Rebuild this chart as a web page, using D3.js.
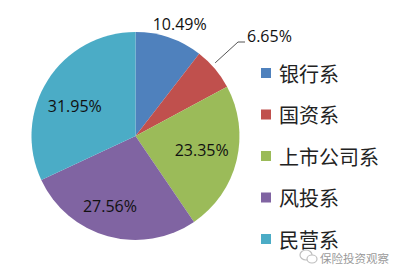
<!DOCTYPE html>
<html>
<head>
<meta charset="utf-8">
<script src="https://cdn.jsdelivr.net/npm/d3@7/dist/d3.min.js"></script>
<style>
  html, body { margin: 0; padding: 0; background: #fff; }
  svg { display: block; }
</style>
</head>
<body>
<svg id="chart" width="396" height="273"></svg>
<script>
// Share of each investor background
const categories = ["银行系", "国资系", "上市公司系", "风投系", "民营系"];
const shares = [10.49, 6.65, 23.35, 27.56, 31.95];
const colors = ["#4F81BD", "#C0504D", "#9BBB59", "#8064A2", "#4BACC6"];

const svg = d3.select("#chart");
const cx = 135.5, cy = 136, R = 104;

const pie = d3.pie().sort(null).value(d => d);
const arcs = pie(shares);
const arc = d3.arc().innerRadius(0).outerRadius(R);

const g = svg.append("g").attr("transform", `translate(${cx},${cy})`);

g.selectAll("path.slice")
  .data(arcs)
  .join("path")
  .attr("class", "slice")
  .attr("d", arc)
  .attr("fill", (d, i) => colors[i]);

// Label placement: radius factor relative to R and a small angular nudge (degrees)
const labelRadius = [1.16, 1.0, 0.65, 0.72, 0.65];
const labelNudge = [2.6, 0, -2, 4.6, -6.5];
const fmt = v => v.toFixed(2) + "%";
const labelFont = "'Open Sans', 'Liberation Sans', sans-serif";

arcs.forEach((d, i) => {
  if (i === 1) return;
  const ang = (d.startAngle + d.endAngle) / 2 + labelNudge[i] * Math.PI / 180;
  const r = R * labelRadius[i];
  g.append("text")
    .attr("x", Math.sin(ang) * r).attr("y", -Math.cos(ang) * r)
    .attr("text-anchor", "middle")
    .attr("dominant-baseline", "central")
    .attr("font-family", labelFont)
    .attr("font-size", 16)
    .attr("fill", "#111")
    .text(fmt(shares[i]));
});

// Small slice: label outside with a bent leader line
{
  const d = arcs[1];
  const mid = (d.startAngle + d.endAngle) / 2 - 0.04;
  const p0 = [Math.sin(mid) * R * 1.04, -Math.cos(mid) * R * 1.04];
  const p1 = [238 - cx, 42 - cy];
  const p2 = [245 - cx, 42 - cy];
  g.append("path")
    .attr("d", d3.line()([p0, p1, p2]))
    .attr("fill", "none")
    .attr("stroke", "#555")
    .attr("stroke-width", 1);
  g.append("text")
    .attr("x", 247 - cx).attr("y", 36 - cy)
    .attr("dominant-baseline", "central")
    .attr("font-family", labelFont)
    .attr("font-size", 16)
    .attr("fill", "#111")
    .text(fmt(shares[1]));
}

// Legend
const legendY = d3.scalePoint().domain(categories).range([73, 239]);
const legend = svg.append("g");
categories.forEach((c, i) => {
  const y = legendY(c);
  legend.append("rect")
    .attr("x", 261).attr("y", y - 5)
    .attr("width", 10).attr("height", 10)
    .attr("fill", colors[i]);
  legend.append("text")
    .attr("x", 279).attr("y", y)
    .attr("dominant-baseline", "central")
    .attr("font-family", "'Noto Sans CJK SC', sans-serif")
    .attr("font-size", 20)
    .attr("fill", "#222")
    .text(c);
});

// Account mark in the corner
const wm = svg.append("g").attr("opacity", 0.75);
wm.append("ellipse").attr("cx", 306).attr("cy", 255).attr("rx", 6).attr("ry", 5)
  .attr("fill", "none").attr("stroke", "#aaa").attr("stroke-width", 1.2);
wm.append("ellipse").attr("cx", 312).attr("cy", 259).attr("rx", 5).attr("ry", 4)
  .attr("fill", "#fff").attr("stroke", "#aaa").attr("stroke-width", 1.2);
wm.append("text")
  .attr("x", 320).attr("y", 258)
  .attr("dominant-baseline", "central")
  .attr("font-family", "'Noto Sans CJK SC', sans-serif")
  .attr("font-size", 11.5)
  .attr("fill", "#777")
  .text("保险投资观察");
</script>
</body>
</html>
